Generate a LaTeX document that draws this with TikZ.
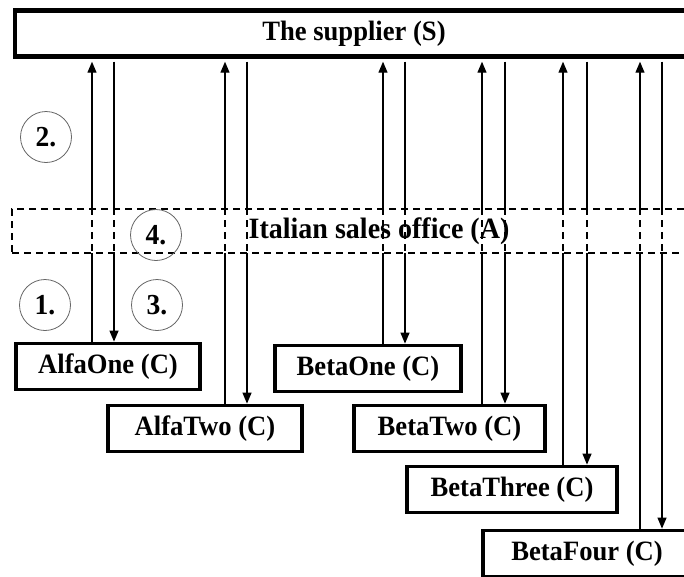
\documentclass[tikz,border=0pt]{standalone}
\usepackage{fontspec}
\setmainfont{Liberation Serif}
\newfontfamily\labelfont[FakeStretch=0.95]{Liberation Serif}
\usetikzlibrary{arrows.meta}
\begin{document}
\begin{tikzpicture}[x=1pt,y=-1pt,
  heavybox/.style={draw, rectangle, line width=3.8pt, minimum height=46pt,
    inner sep=0pt, font=\labelfont\bfseries\fontsize{28}{32}\selectfont},
  officebox/.style={draw, rectangle, dashed, dash pattern=on 7pt off 5pt,
    line width=1.3pt, fill=white, minimum height=44pt, minimum width=680pt, inner sep=0pt},
  officetext/.style={font=\labelfont\bfseries\fontsize{29.5}{34}\selectfont, inner sep=0pt},
  flow/.style={line width=1.2pt},
  tip/.style={-{Triangle[length=11pt,width=9pt]}},
  vdash/.style={line width=1.2pt, dash pattern=on 7pt off 5pt},
  stepmark/.style={draw=black!60, line width=0.8pt, circle, minimum size=51pt,
    inner sep=0pt, font=\labelfont\bfseries\fontsize{29}{32}\selectfont}
]
\useasboundingbox (0,0) rectangle (684,576);
\clip (0,0) rectangle (684,576);

% supplier
\node[heavybox, minimum width=678pt, line width=4.4pt] (S) at (354,33.5) {The supplier (S)};

% customers
\node[heavybox, minimum width=184pt] (c1) at (108,366.5) {AlfaOne (C)};
\node[heavybox, minimum width=194pt] (c2) at (205,428.5) {AlfaTwo (C)};
\node[heavybox, minimum width=186pt] (c3) at (368,368.5) {BetaOne (C)};
\node[heavybox, minimum width=191pt] (c4) at (449.5,428.5) {BetaTwo (C)};
\node[heavybox, minimum width=210pt] (c5) at (512,489.5) {BetaThree (C)};
\node[heavybox, minimum width=208pt] (c6) at (587,553.5) {BetaFour (C)};

% x positions of the flow lines (up = order, down = delivery)
\coordinate (u1) at (92,0);  \coordinate (d1) at (114,0);
\coordinate (u2) at (225,0); \coordinate (d2) at (247,0);
\coordinate (u3) at (383,0); \coordinate (d3) at (405,0);
\coordinate (u4) at (482,0); \coordinate (d4) at (505,0);
\coordinate (u5) at (563,0); \coordinate (d5) at (587,0);
\coordinate (u6) at (640,0); \coordinate (d6) at (662,0);

\foreach \i in {1,...,6}{
  \draw[flow, tip, shorten >=3pt] (c\i.north -| u\i) -- (S.south -| u\i);
  \draw[flow, tip, shorten <=3pt] (S.south -| d\i) -- (c\i.north -| d\i);
}

% sales office band
\node[officebox] (A) at (352,231) {};
\node[officetext] (At) at (379,231) {Italian sales office (A)};
\foreach \i in {1,...,6}{
  \draw[vdash] (A.north -| u\i) -- (A.south -| u\i);
  \draw[vdash] (A.north -| d\i) -- (A.south -| d\i);
}

% step numbers
\node[stepmark] (n2) at (46,137) {2.};
\node[stepmark] (n4) at (156,235) {4.};
\node[stepmark] (n1) at (45,305) {1.};
\node[stepmark] (n3) at (157,305) {3.};
\end{tikzpicture}
\end{document}
